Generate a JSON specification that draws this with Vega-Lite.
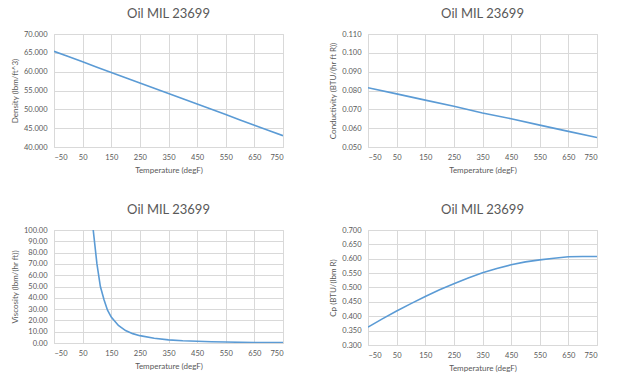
{
  "$schema": "https://vega.github.io/schema/vega-lite/v6.json",
  "background": "white",
  "padding": {"left": 10, "top": 7, "right": 5, "bottom": 5},
  "columns": 2,
  "bounds": "flush",
  "spacing": {"row": 83, "column": 85},
  "config": {
    "font": "Lato",
    "view": {"stroke": "#d9d9d9", "strokeWidth": 1},
    "axis": {
      "labelFont": "Lato", "labelFontSize": 7.5, "labelColor": "#595959",
      "titleFont": "Lato", "titleFontSize": 8, "titleFontWeight": "normal", "titleColor": "#595959",
      "gridColor": "#d9d9d9", "ticks": false, "domain": false
    },
    "axisX": {"domain": true, "domainColor": "#d9d9d9", "labelPadding": 6, "titlePadding": 6},
    "axisY": {"labelPadding": 7, "titlePadding": 4},
    "title": {"font": "Lato", "fontSize": 13, "fontWeight": "normal", "color": "#595959", "offset": 9, "anchor": "middle"}
  },
  "datasets": {
    "density": [
      {"t": -50, "v": 65.4}, {"t": 0, "v": 64.0}, {"t": 50, "v": 62.6}, {"t": 100, "v": 61.2},
      {"t": 150, "v": 59.8}, {"t": 200, "v": 58.4}, {"t": 250, "v": 57.0}, {"t": 300, "v": 55.6},
      {"t": 350, "v": 54.2}, {"t": 400, "v": 52.8}, {"t": 450, "v": 51.4}, {"t": 500, "v": 50.0},
      {"t": 550, "v": 48.6}, {"t": 600, "v": 47.2}, {"t": 650, "v": 45.8}, {"t": 700, "v": 44.4},
      {"t": 750, "v": 43.0}
    ],
    "conductivity": [
      {"t": -50, "v": 0.0815}, {"t": 50, "v": 0.0782}, {"t": 150, "v": 0.0749}, {"t": 250, "v": 0.0716},
      {"t": 350, "v": 0.0681}, {"t": 450, "v": 0.0650}, {"t": 550, "v": 0.0616}, {"t": 650, "v": 0.0583},
      {"t": 750, "v": 0.0550}
    ],
    "viscosity": [
      {"t": 75, "v": 140}, {"t": 87, "v": 100}, {"t": 100, "v": 70}, {"t": 112, "v": 50},
      {"t": 125, "v": 38}, {"t": 137, "v": 29}, {"t": 150, "v": 23}, {"t": 175, "v": 15.5},
      {"t": 200, "v": 11}, {"t": 225, "v": 8.3}, {"t": 250, "v": 6.5}, {"t": 300, "v": 4.2},
      {"t": 350, "v": 2.8}, {"t": 400, "v": 2.0}, {"t": 450, "v": 1.5}, {"t": 500, "v": 1.1},
      {"t": 550, "v": 0.85}, {"t": 600, "v": 0.65}, {"t": 650, "v": 0.5}, {"t": 700, "v": 0.4},
      {"t": 750, "v": 0.3}
    ],
    "cp": [
      {"t": -50, "v": 0.362}, {"t": 0, "v": 0.391}, {"t": 50, "v": 0.418}, {"t": 100, "v": 0.444},
      {"t": 150, "v": 0.469}, {"t": 200, "v": 0.492}, {"t": 250, "v": 0.513}, {"t": 300, "v": 0.533},
      {"t": 350, "v": 0.551}, {"t": 400, "v": 0.566}, {"t": 450, "v": 0.579}, {"t": 500, "v": 0.589},
      {"t": 550, "v": 0.596}, {"t": 600, "v": 0.602}, {"t": 650, "v": 0.607}, {"t": 700, "v": 0.608},
      {"t": 750, "v": 0.608}
    ]
  },
  "concat": [
    {
      "title": "Oil MIL 23699",
      "width": 229, "height": 113,
      "data": {"name": "density"},
      "mark": {"type": "line", "color": "#5b9bd5", "strokeWidth": 1.6, "clip": true},
      "encoding": {
        "x": {"field": "t", "type": "quantitative", "scale": {"domain": [-50, 750], "nice": false, "zero": false},
              "axis": {"values": [-50, 50, 150, 250, 350, 450, 550, 650, 750], "title": "Temperature (degF)"}},
        "y": {"field": "v", "type": "quantitative", "scale": {"domain": [40, 70], "nice": false, "zero": false},
              "axis": {"values": [40, 45, 50, 55, 60, 65, 70], "format": ".3f", "title": "Density (lbm/ft^3)"}}
      }
    },
    {
      "title": "Oil MIL 23699",
      "width": 229, "height": 113,
      "data": {"name": "conductivity"},
      "mark": {"type": "line", "color": "#5b9bd5", "strokeWidth": 1.6, "clip": true},
      "encoding": {
        "x": {"field": "t", "type": "quantitative", "scale": {"domain": [-50, 750], "nice": false, "zero": false},
              "axis": {"values": [-50, 50, 150, 250, 350, 450, 550, 650, 750], "title": "Temperature (degF)"}},
        "y": {"field": "v", "type": "quantitative", "scale": {"domain": [0.05, 0.11], "nice": false, "zero": false},
              "axis": {"values": [0.05, 0.06, 0.07, 0.08, 0.09, 0.10, 0.11], "format": ".3f", "title": "Conductivity (BTU/(hr ft R))"}}
      }
    },
    {
      "title": "Oil MIL 23699",
      "width": 229, "height": 113,
      "data": {"name": "viscosity"},
      "mark": {"type": "line", "color": "#5b9bd5", "strokeWidth": 1.6, "clip": true},
      "encoding": {
        "x": {"field": "t", "type": "quantitative", "scale": {"domain": [-50, 750], "nice": false, "zero": false},
              "axis": {"values": [-50, 50, 150, 250, 350, 450, 550, 650, 750], "title": "Temperature (degF)"}},
        "y": {"field": "v", "type": "quantitative", "scale": {"domain": [0, 100], "nice": false, "zero": false},
              "axis": {"values": [0, 10, 20, 30, 40, 50, 60, 70, 80, 90, 100], "format": ".2f", "title": "Viscosity (lbm/(hr ft))"}}
      }
    },
    {
      "title": "Oil MIL 23699",
      "width": 229, "height": 115,
      "data": {"name": "cp"},
      "mark": {"type": "line", "color": "#5b9bd5", "strokeWidth": 1.6, "clip": true},
      "encoding": {
        "x": {"field": "t", "type": "quantitative", "scale": {"domain": [-50, 750], "nice": false, "zero": false},
              "axis": {"values": [-50, 50, 150, 250, 350, 450, 550, 650, 750], "title": "Temperature (degF)"}},
        "y": {"field": "v", "type": "quantitative", "scale": {"domain": [0.3, 0.7], "nice": false, "zero": false},
              "axis": {"values": [0.3, 0.35, 0.4, 0.45, 0.5, 0.55, 0.6, 0.65, 0.7], "format": ".3f", "title": "Cp (BTU/(lbm R)"}}
      }
    }
  ]
}
